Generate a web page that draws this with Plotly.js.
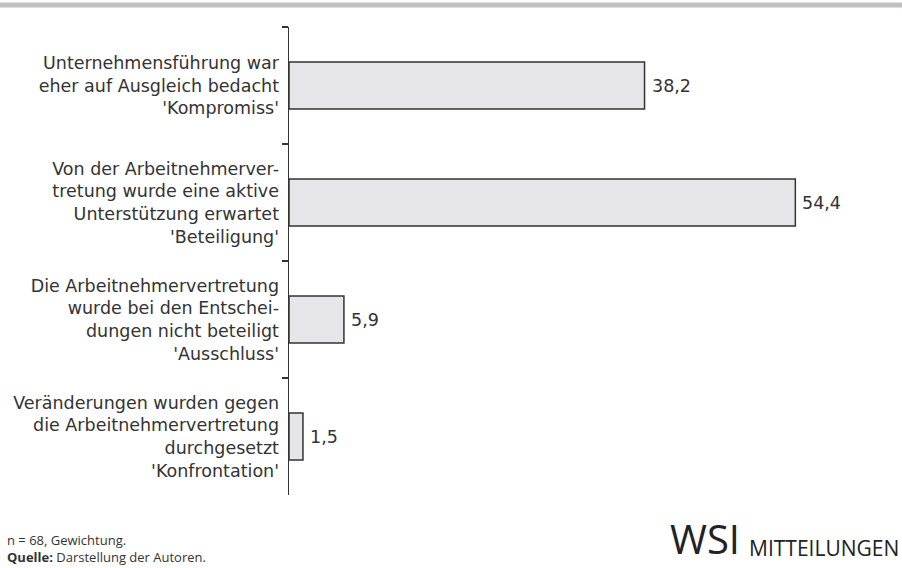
<!DOCTYPE html>
<html>
<head>
<meta charset="utf-8">
<script src="https://cdn.plot.ly/plotly-3.0.1.min.js"></script>
<style>html,body{margin:0;padding:0;background:#fff;}#chart{width:902px;height:568px;}</style>
</head>
<body>
<div id="chart"></div>
<script>
const categories = [
  "Unternehmensführung war<br>eher auf Ausgleich bedacht<br>'Kompromiss'",
  "Von der Arbeitnehmerver-<br>tretung wurde eine aktive<br>Unterstützung erwartet<br>'Beteiligung'",
  "Die Arbeitnehmervertretung<br>wurde bei den Entschei-<br>dungen nicht beteiligt<br>'Ausschluss'",
  "Veränderungen wurden gegen<br>die Arbeitnehmervertretung<br>durchgesetzt<br>'Konfrontation'"
];
const values = [38.2, 54.4, 5.9, 1.5];
const valueLabels = ["38,2", "54,4", "5,9", "1,5"];

const W = 902, H = 568;
const M = {l: 289, r: 8, t: 27, b: 73};
const plotW = W - M.l - M.r;
const plotH = H - M.t - M.b;
const py = p => 1 + (M.t - p) / plotH;
const px = p => (p - M.l) / plotW;
const txt = '#333333';
const font = 'DejaVu Sans, sans-serif';
const font2 = 'Open Sans, Noto Sans, sans-serif';

const trace = {
  type: 'bar',
  orientation: 'h',
  x: values,
  y: categories,
  width: 0.4,
  marker: {color: '#e6e6e8', line: {color: '#333333', width: 1.5}},
  hoverinfo: 'skip'
};

const annotations = values.map((v, i) => ({
  x: v, y: categories[i], xref: 'x', yref: 'y',
  text: valueLabels[i], showarrow: false,
  xanchor: 'left', yanchor: 'middle', xshift: 5,
  font: {family: font, size: 17.5, color: txt}
}));
annotations.push({
  xref: 'paper', yref: 'paper', x: px(5), y: py(529),
  xanchor: 'left', yanchor: 'top', align: 'left', showarrow: false,
  text: "n = 68, Gewichtung.<br><b>Quelle:</b> Darstellung der Autoren.",
  font: {family: font2, size: 13, color: txt}
});
annotations.push({
  xref: 'paper', yref: 'paper', x: px(742), y: py(567.5),
  xanchor: 'right', yanchor: 'bottom', showarrow: false,
  text: "WSI",
  font: {family: font2, size: 40, color: '#222222'}
});
annotations.push({
  xref: 'paper', yref: 'paper', x: px(901), y: py(564),
  xanchor: 'right', yanchor: 'bottom', showarrow: false,
  text: "MITTEILUNGEN",
  font: {family: font2, size: 21, color: '#222222'}
});

const layout = {
  width: W, height: H,
  margin: M,
  paper_bgcolor: '#ffffff', plot_bgcolor: '#ffffff',
  showlegend: false,
  xaxis: {range: [0, 65], visible: false, fixedrange: true},
  yaxis: {
    type: 'category', autorange: 'reversed',
    showline: true, linecolor: '#333333', linewidth: 1.5,
    ticks: 'outside', tickson: 'boundaries', ticklen: 6, tickwidth: 1.5, tickcolor: '#333333',
    ticklabelstandoff: 5,
    showgrid: false, zeroline: false,
    tickfont: {family: font, size: 17.5, color: txt},
    fixedrange: true
  },
  shapes: [{
    type: 'rect', xref: 'paper', yref: 'paper', x0: px(0), x1: px(W),
    y0: py(7.5), y1: py(2.5), fillcolor: '#c0c0c4', line: {width: 0}
  }],
  annotations: annotations
};

Plotly.newPlot('chart', [trace], layout, {displayModeBar: false, staticPlot: true});
</script>
</body>
</html>
